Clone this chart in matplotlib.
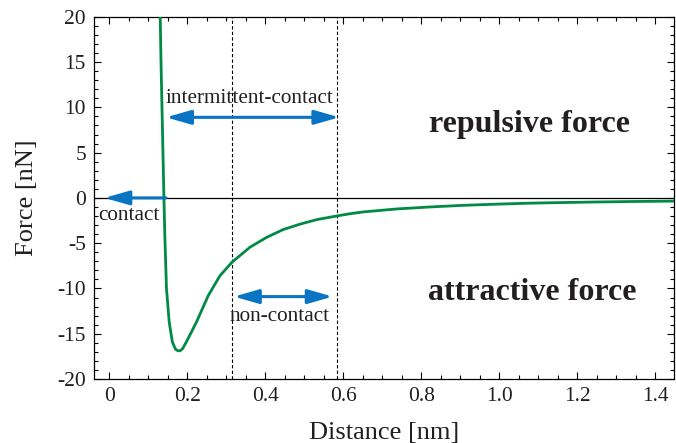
"""Tip-sample force vs distance curve with AFM operating regimes."""

import matplotlib

matplotlib.use("Agg")
import matplotlib.pyplot as plt
from matplotlib.ticker import MultipleLocator

# Force curve (distance in nm, force in nN).
distance = [0.131, 0.133, 0.1355, 0.138, 0.1405, 0.143, 0.147, 0.154, 0.162,
            0.170, 0.175, 0.180, 0.185, 0.189, 0.198, 0.210, 0.224, 0.254,
            0.284, 0.315, 0.361, 0.404, 0.446, 0.489, 0.532, 0.583, 0.617,
            0.651, 0.737, 0.822, 0.908, 0.993, 1.079, 1.164, 1.250, 1.335,
            1.455]
force = [20.0, 15.0, 10.0, 5.0, 0.0, -4.5, -10.0, -13.7, -15.9,
         -16.7, -16.85, -16.9, -16.8, -16.6, -15.9, -14.9, -13.7, -10.8,
         -8.6, -7.1, -5.45, -4.35, -3.5, -2.9, -2.4, -2.0, -1.75,
         -1.55, -1.22, -1.0, -0.82, -0.69, -0.58, -0.51, -0.45, -0.40,
         -0.35]

# Regime boundaries (dashed lines) and arrow spans.
boundaries = [0.315, 0.583]
intermittent_span = (0.146, 0.59, 8.9)
contact_span = (0.146, -0.012, 0.0)
noncontact_span = (0.32, 0.573, -10.9)

plt.rcParams["font.family"] = ["Liberation Serif", "DejaVu Serif"]
plt.rcParams["axes.unicode_minus"] = False

fig = plt.figure(figsize=(6.76, 4.43), dpi=100)
ax = fig.add_axes([0.1395, 0.1445, 0.8575, 0.8175])

ax.axhline(0, color="black", lw=0.9, zorder=1)
for xb in boundaries:
    ax.axvline(xb, color="black", lw=0.8, ls=(0, (3, 2)), zorder=1)

ax.plot(distance, force, color="#008a45", lw=2.0, zorder=3,
        solid_joinstyle="round")

arrow_color = "#0a74c4"
both_heads = dict(arrowstyle="<|-|>,head_length=1.5,head_width=0.43",
                  color=arrow_color, lw=2.2, shrinkA=0, shrinkB=0)
one_head = dict(arrowstyle="-|>,head_length=1.5,head_width=0.43",
                color=arrow_color, lw=2.2, shrinkA=0, shrinkB=0)
x0, x1, y = intermittent_span
ax.annotate("", xy=(x1, y), xytext=(x0, y), arrowprops=both_heads, zorder=4)
x0, x1, y = noncontact_span
ax.annotate("", xy=(x1, y), xytext=(x0, y), arrowprops=both_heads, zorder=4)
x0, x1, y = contact_span
ax.annotate("", xy=(x1, y), xytext=(x0, y), arrowprops=one_head, zorder=4)

text_color = "#231f20"
ax.text(0.36, 11.0, "intermittent-contact", fontsize=15.3, color=text_color,
        ha="center", va="center")
ax.text(0.05, -1.9, "contact", fontsize=15.3, color=text_color,
        ha="center", va="center")
ax.text(0.437, -13.1, "non-contact", fontsize=15.3, color=text_color,
        ha="center", va="center")
ax.text(1.078, 8.1, "repulsive force", fontsize=23, fontweight="bold",
        color=text_color, ha="center", va="center")
ax.text(1.085, -10.5, "attractive force", fontsize=23, fontweight="bold",
        color=text_color, ha="center", va="center")

ax.set_xlim(-0.038, 1.448)
ax.set_ylim(-20, 20)
ax.xaxis.set_major_locator(MultipleLocator(0.2))
ax.xaxis.set_minor_locator(MultipleLocator(0.05))
ax.yaxis.set_major_locator(MultipleLocator(5))
ax.yaxis.set_minor_locator(MultipleLocator(1))
ax.xaxis.set_major_formatter(lambda v, pos: "0" if abs(v) < 1e-9 else f"{v:.1f}")
ax.tick_params(which="both", direction="in", top=True, right=True,
               labelsize=15.5, labelcolor=text_color, width=0.8)
ax.tick_params(which="major", length=5, pad=6)
ax.tick_params(which="minor", length=3)
for spine in ax.spines.values():
    spine.set_linewidth(0.9)

ax.set_xlabel("Distance [nm]", fontsize=19, color=text_color, labelpad=11)
ax.set_ylabel("Force [nN]", fontsize=19, color=text_color, labelpad=14)

fig.savefig("out.png", dpi=100)
